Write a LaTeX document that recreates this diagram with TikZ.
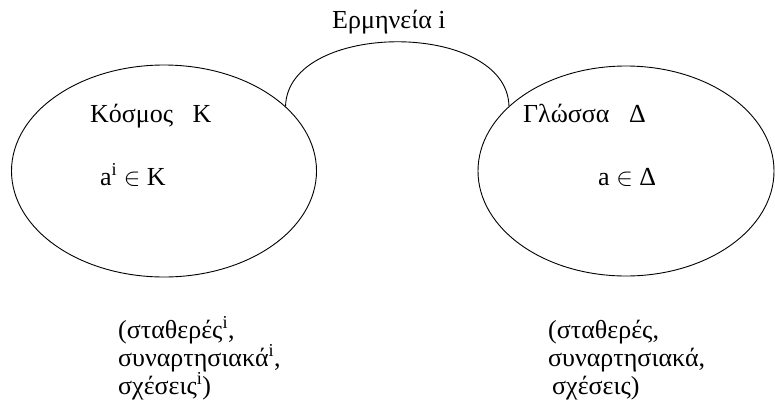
\documentclass[tikz,border=0pt]{standalone}
\usepackage{fontspec}
\setmainfont{Liberation Serif}
\usetikzlibrary{shapes.geometric}

\begin{document}
\begin{tikzpicture}[x=1pt,y=-1pt,
    world/.style={draw, ellipse, line width=0.9pt, inner sep=0pt},
    lbl/.style={anchor=base west, inner sep=0pt, font=\fontsize{26}{28}\selectfont},
    lst/.style={lbl, align=left}]
  \useasboundingbox (0,0) rectangle (775,407);
  % οι δύο κόσμοι
  \node[world, minimum width=305, minimum height=212] (kosmos) at (164,171) {};
  \node[world, minimum width=296, minimum height=210] (glossa) at (626,171) {};
  % ερμηνεία
  \draw[line width=0.9pt] (kosmos.28) .. controls +(2,-86) and +(-2,-86) .. (glossa.151);
  \node[lbl] (erm) at (332,28) {Ερμηνεία i};
  \node[lbl] (kname) at (90,122) {Κόσμος\ \ \ Κ};
  \node[lbl] (kelem) at (100,185) {a\textsuperscript{i} $\in$ Κ};
  \node[lbl] (gname) at (523,122) {Γλώσσα\ \ \ Δ};
  \node[lbl] (gelem) at (598,185) {a $\in$ Δ};
  % η βάση είναι η τελευταία γραμμή
  \node[lst] (klist) at (118,394) {(σταθερές\textsuperscript{i},\\συναρτησιακά\textsuperscript{i},\\σχέσεις\textsuperscript{i})};
  \node[lst] (glist) at (548,394) {(σταθερές,\\συναρτησιακά,\\\hspace{4pt}σχέσεις)};
\end{tikzpicture}
\end{document}
